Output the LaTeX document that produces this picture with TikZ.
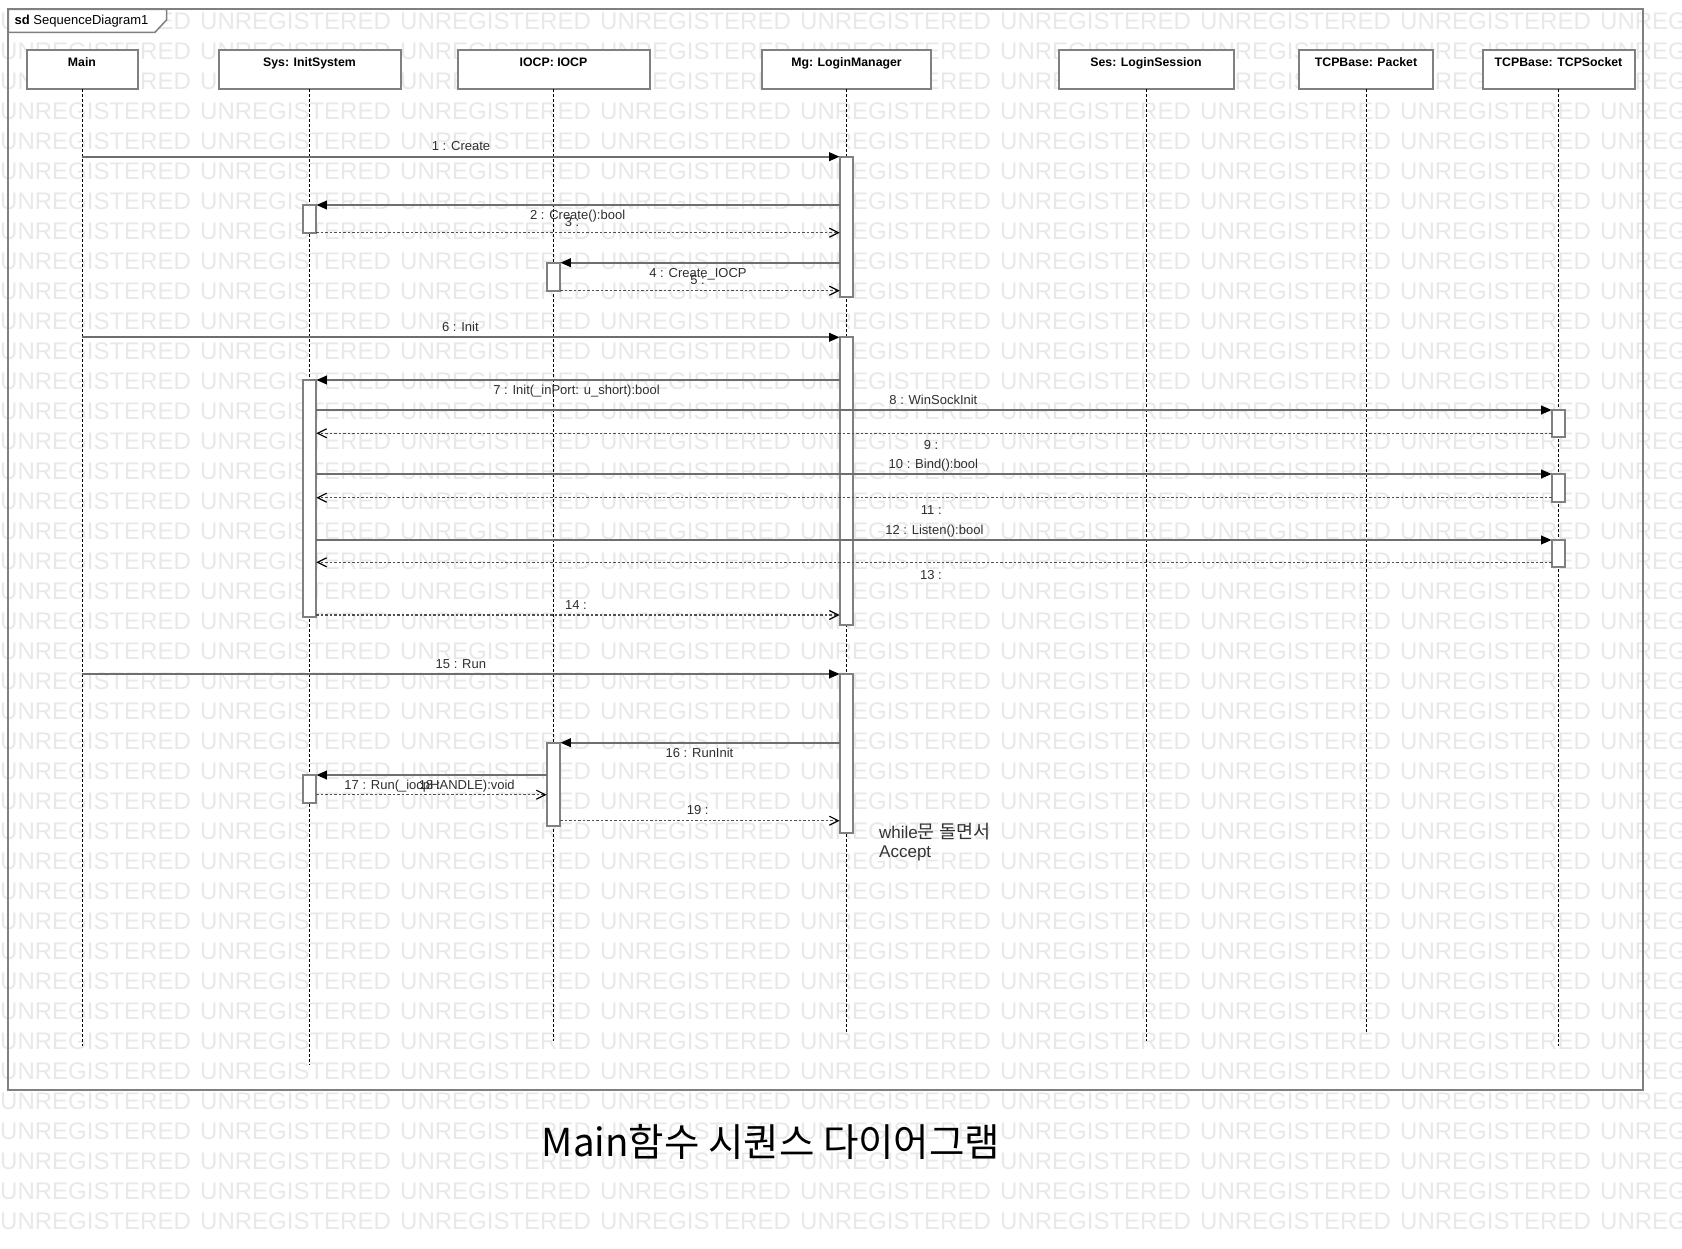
\documentclass[tikz,border=0pt]{standalone}
\usepackage{fontspec}
\setmainfont{Liberation Sans}
\newfontfamily\krfont{Noto Sans CJK KR}
\usetikzlibrary{arrows.meta}
\definecolor{wmgray}{HTML}{E8E8E8}
\definecolor{bordergray}{HTML}{808080}
\definecolor{callgray}{HTML}{6E6E6E}
\definecolor{retgray}{HTML}{505050}
\definecolor{labelcol}{HTML}{2E2E2E}
\tikzset{
  wm/.style={text=wmgray, font=\fontsize{24}{24}\selectfont, anchor=west, inner sep=0pt},
  head/.style={draw=bordergray, line width=2pt, fill=white, anchor=north, inner sep=0pt, outer sep=0pt,
    text height=16.3pt, text depth=23pt, font=\fontsize{12.3}{14}\selectfont\bfseries},
  life/.style={line width=1pt, dash pattern=on 3pt off 2pt, black},
  act/.style={draw=bordergray, line width=2pt, fill=white, minimum width=13.7pt, inner sep=0pt, outer sep=0pt, anchor=north},
  call/.style={draw=callgray, line width=2pt, -{Triangle[length=10.5pt,width=8.5pt,color=black]}},
  ret/.style={draw=retgray, line width=1.3pt, dash pattern=on 2.5pt off 2pt,
    -{Straight Barb[length=9pt,width=9pt,line width=1.2pt,color=black]}},
  lbl/.style={font=\fontsize{13}{15}\selectfont, text=labelcol, inner sep=0pt, anchor=base},
}
\begin{document}
\begin{tikzpicture}[x=1pt,y=-1pt]
\useasboundingbox (0,0) rectangle (1682,1249);
% watermark
\begin{scope}
\clip (0,0) rectangle (1682,1249);
\foreach \r in {0,...,40}{
  \foreach \c in {0,...,8}{
    \node[wm] (wm-\r-\c) at (\c*200, 21.5+\r*30) {UNREGISTERED};
  }
}
\end{scope}
% frame
\draw[bordergray, line width=2pt] (8.4,9.3) rectangle (1642.7,1090);
\draw[draw=bordergray, line width=1.5pt, fill=white] (8.4,9.3) -- (166.5,9.3) -- (166.5,20) -- (155,32.3) -- (8.4,32.3) -- cycle;
\node[anchor=west, inner sep=0pt, font=\fontsize{13}{15}\selectfont] (tabtxt) at (14.5,21.3) {\textbf{sd} SequenceDiagram1};
% headers
\node[head, minimum width=111pt] (main) at (82,50) {Main};
\node[head, minimum width=182pt] (sys) at (309.5,50) {Sys: InitSystem};
\node[head, minimum width=192pt] (iocp) at (553.5,50) {IOCP: IOCP};
\node[head, minimum width=169pt] (mg) at (846.5,50) {Mg: LoginManager};
\node[head, minimum width=175pt] (ses) at (1146,50) {Ses: LoginSession};
\node[head, minimum width=134pt] (pkt) at (1366,50) {TCPBase: Packet};
\node[head, minimum width=152pt] (sock) at (1558.5,50) {TCPBase: TCPSocket};
% lifelines
\draw[life] (main.south) -- ++(0,957);
\draw[life] (sys.south) -- ++(0,976);
\draw[life] (iocp.south) -- ++(0,952);
\draw[life] (mg.south) -- ++(0,945);
\draw[life] (ses.south) -- ++(0,952);
\draw[life] (pkt.south) -- ++(0,945);
\draw[life] (sock.south) -- ++(0,957);
% activation bars
\node[act, minimum height=140.3pt] (mgA1) at (846.5,156.7) {};
\node[act, minimum height=27.7pt] (sysA1) at (309.5,205) {};
\node[act, minimum height=28pt] (iocpA1) at (553.5,262.7) {};
\node[act, minimum height=288pt] (mgA2) at (846.5,337.3) {};
\node[act, minimum height=236.7pt] (sysA2) at (309.5,380) {};
\node[act, minimum height=27.3pt] (sockA1) at (1558.5,410) {};
\node[act, minimum height=27.7pt] (sockA2) at (1558.5,474) {};
\node[act, minimum height=27.3pt] (sockA3) at (1558.5,540) {};
\node[act, minimum height=159.3pt] (mgA3) at (846.5,674) {};
\node[act, minimum height=83pt] (iocpA2) at (553.5,742.7) {};
\node[act, minimum height=27.7pt] (sysA3) at (309.5,775) {};
% return anchor points
\coordinate (r9) at ([yshift=4pt]sockA1.south west);
\coordinate (r11) at ([yshift=4pt]sockA2.south west);
\coordinate (r13) at ([yshift=5pt]sockA3.south west);
\coordinate (r14) at ([yshift=1.7pt]sysA2.south east);
\coordinate (r18) at ([yshift=8pt]sysA3.south east);
\coordinate (r19) at ([yshift=5pt]iocpA2.south east);
% messages
\draw[call] (main.south |- mgA1.north) -- (mgA1.north west);
\draw[call] (mgA1.west |- sysA1.north) -- (sysA1.north east);
\draw[ret] (sysA1.south east) -- (mgA1.west |- sysA1.south);
\draw[call] (mgA1.west |- iocpA1.north) -- (iocpA1.north east);
\draw[ret] (iocpA1.south east) -- (mgA1.west |- iocpA1.south);
\draw[call] (main.south |- mgA2.north) -- (mgA2.north west);
\draw[call] (mgA2.west |- sysA2.north) -- (sysA2.north east);
\draw[call] (sysA2.east |- sockA1.north) -- (sockA1.north west);
\draw[ret] (r9) -- (sysA2.east |- r9);
\draw[call] (sysA2.east |- sockA2.north) -- (sockA2.north west);
\draw[ret] (r11) -- (sysA2.east |- r11);
\draw[call] (sysA2.east |- sockA3.north) -- (sockA3.north west);
\draw[ret] (r13) -- (sysA2.east |- r13);
\draw[ret] (r14) -- (mgA2.west |- r14);
\draw[call] (main.south |- mgA3.north) -- (mgA3.north west);
\draw[call] (mgA3.west |- iocpA2.north) -- (iocpA2.north east);
\draw[call] (iocpA2.west |- sysA3.north) -- (sysA3.north east);
\draw[ret] (r18) -- (iocpA2.west |- r18);
\draw[ret] (r19) -- (mgA3.west |- r19);
% labels
\node[lbl] (l1) at (461,150.7) {1 : Create};
\node[lbl] (l2) at (577.6,219.7) {2 : Create():bool};
\node[lbl] (l3) at (572,226.4) {3 :};
\node[lbl] (l4) at (698,277.4) {4 : Create\_IOCP};
\node[lbl] (l5) at (697.6,284.7) {5 :};
\node[lbl] (l6) at (460.4,331.4) {6 : Init};
\node[lbl] (l7) at (576.5,394) {7 : Init(\_inPort: u\_short):bool};
\node[lbl] (l8) at (933.4,404) {8 : WinSockInit};
\node[lbl] (l9) at (931,449) {9 :};
\node[lbl] (l10) at (933.4,468) {10 : Bind():bool};
\node[lbl] (l11) at (931.3,514) {11 :};
\node[lbl] (l12) at (934.4,534) {12 : Listen():bool};
\node[lbl] (l13) at (931,579.7) {13 :};
\node[lbl] (l14) at (576,609.7) {14 :};
\node[lbl] (l15) at (460.9,668) {15 : Run};
\node[lbl] (l16) at (699.5,757.4) {16 : RunInit};
\node[lbl] (l17) at (429.6,789.7) {17 : Run(\_iocpHANDLE):void};
\node[lbl] (l18) at (429.6,789.7) {18 :};
\node[lbl] (l19) at (697.7,814.7) {19 :};
% note
\node[anchor=north west, align=left, inner sep=0pt, font=\fontsize{17}{18.6}\selectfont, text=black!80] (note) at (879,823) {while{\krfont\fontsize{18.5}{18.6}\selectfont 문 돌면서}\\Accept};
% title
\node[font=\krfont\fontsize{38.5}{40}\selectfont, inner sep=0pt] (title) at (771,1142) {Main함수 시퀀스 다이어그램};
\end{tikzpicture}
\end{document}
